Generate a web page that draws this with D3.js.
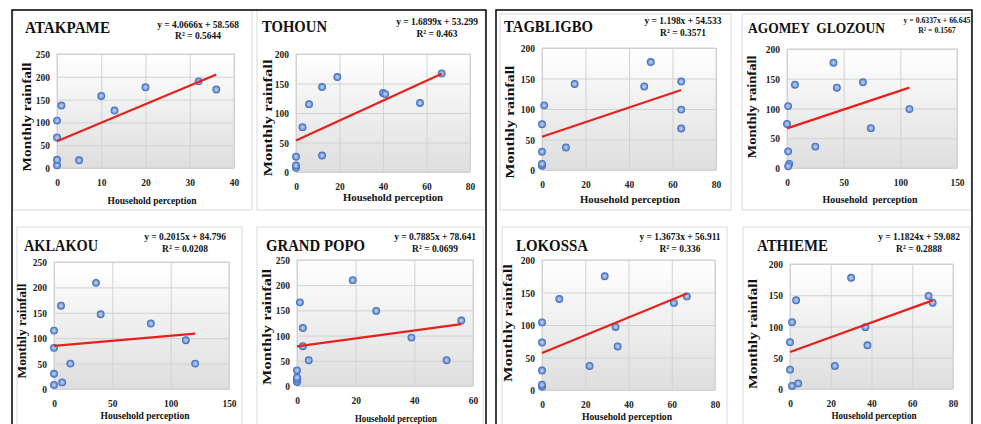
<!DOCTYPE html>
<html>
<head>
<meta charset="utf-8">
<script src="https://cdn.jsdelivr.net/npm/d3@7"></script>
<style>
html, body { margin: 0; padding: 0; background: #fff; }
svg { display: block; font-family: "Liberation Serif", "Times New Roman", serif; }
</style>
</head>
<body>
<svg id="viz"></svg>
<script>
// values
var sites = ["ATAKPAME", "TOHOUN", "TAGBLIGBO", "AGOMEY  GLOZOUN", "AKLAKOU", "GRAND POPO", "LOKOSSA", "ATHIEME"];
var slopes = [4.0666, 1.6899, 1.198, 0.6337, 0.2015, 0.7885, 1.3673, 1.1824];
var intercepts = [58.568, 53.299, 54.533, 66.645, 84.796, 78.641, 56.911, 59.082];
var rSquared = ["0.5644", "0.463", "0.3571", "0.1567", "0.0208", "0.0699", "0.336", "0.2888"];
var xMax = [40, 80, 80, 150, 150, 60, 80, 80];
var xStep = [10, 20, 20, 50, 50, 20, 20, 20];
var yMax = [250, 200, 200, 200, 250, 250, 200, 200];

// [household perception, monthly rainfall]
var atakpame = [[0, 6], [0, 18], [0, 67], [0, 104], [1, 137], [5, 17], [10, 158], [13, 126], [20, 177], [32, 190], [36, 172]];
var tohoun = [[0, 7], [0, 11], [0, 26], [3, 76], [6, 115], [12, 144], [12, 28], [19, 161], [40, 134], [41, 132], [57, 117], [67, 167]];
var tagbligbo = [[0, 7], [0, 10], [0, 30], [0, 75], [1, 106], [11, 37], [15, 141], [47, 137], [50, 177], [64, 145], [64, 99], [64, 68]];
var agomey = [[0, 74], [1, 104], [1, 28], [2, 7], [1, 3], [7, 140], [25, 36], [41, 177], [44, 135], [67, 144], [74, 67], [108, 99]];
var aklakou = [[0, 8], [0, 30], [0, 81], [0, 115], [6, 164], [7, 13], [14, 50], [36, 209], [40, 147], [83, 129], [113, 96], [121, 50]];
var grandPopo = [[0, 8], [0, 13], [0, 17], [0, 31], [1, 166], [2, 115], [2, 79], [4, 51], [19, 210], [27, 149], [39, 96], [51, 51], [56, 130]];
var lokossa = [[0, 5], [0, 8], [0, 30], [0, 73], [0, 104], [8, 140], [22, 37], [29, 175], [34, 97], [35, 67], [61, 134], [67, 144]];
var athieme = [[0, 31], [0, 75], [1, 107], [1, 5], [3, 142], [4, 9], [22, 37], [30, 178], [37, 99], [38, 70], [68, 149], [70, 138]];
var points = [atakpame, tohoun, tagbligbo, agomey, aklakou, grandPopo, lokossa, athieme];

var width = 981, height = 424;

// layout: box [x,y,w,h], plot [left,right,top,bottom], title [x,y,size,len],
// eq [cx,y1,y2,size], ylab [cx,cy,len], xlab [cx,y,len]
var panels = [
    {box: [13, 10, 239, 200], plot: [57, 234, 54, 168], title: [25, 33, 17, 85], eq: [198, 28, 39, 11], ylab: [27, 117, 109], xlab: [152, 204, 89]},
    {box: [257, 10, 228, 200], plot: [296, 470, 54, 172], title: [262, 32, 17, 65], eq: [437, 25, 37, 11], ylab: [268, 118, 117], xlab: [393, 201, 100]},
    {box: [500, 14, 231, 196], plot: [542, 716, 48, 170], title: [504, 32, 17, 89], eq: [683, 24, 36, 11], ylab: [510, 122, 113], xlab: [630, 203, 100]},
    {box: [742, 14, 229, 196], plot: [787, 957, 49, 168], title: [748, 33, 15, 137], eq: [937, 23, 33, 9], ylab: [752, 107, 103], xlab: [870, 203, 95]},
    {box: [17, 227, 225, 200], plot: [54, 229, 262, 389], title: [24, 251, 17, 74], eq: [185, 240, 252, 11], ylab: [22, 331, 95], xlab: [145, 419, 89]},
    {box: [257, 227, 226, 200], plot: [297, 473, 260, 386], title: [266, 251, 17, 99], eq: [435, 240, 252, 11], ylab: [267, 327, 116], xlab: [396, 422, 82]},
    {box: [502, 227, 225, 200], plot: [542, 715, 260, 390], title: [516, 251, 17, 72], eq: [680, 240, 252, 11], ylab: [508, 323, 118], xlab: [627, 420, 90]},
    {box: [743, 227, 227, 200], plot: [790, 953, 264, 389], title: [757, 251, 17, 71], eq: [919, 240, 252, 11], ylab: [753, 334, 110], xlab: [874, 419, 85]}
];

var svg = d3.select("#viz").attr("width", width).attr("height", height);

var defs = svg.append("defs");
var plotFill = defs.append("linearGradient").attr("id", "plotFill")
    .attr("x1", 0).attr("y1", 0).attr("x2", 0).attr("y2", 1);
plotFill.append("stop").attr("offset", 0).attr("stop-color", "#ffffff");
plotFill.append("stop").attr("offset", 1).attr("stop-color", "#dedede");
var dotFill = defs.append("radialGradient").attr("id", "dotFill");
dotFill.append("stop").attr("offset", 0).attr("stop-color", "#c9d8f2");
dotFill.append("stop").attr("offset", 1).attr("stop-color", "#5b84cc");

// squash text horizontally, the source picture is narrowed
function squeeze(sel, k) {
    sel.each(function() {
        var w = this.getComputedTextLength();
        d3.select(this).attr("textLength", w * k).attr("lengthAdjust", "spacingAndGlyphs");
    });
}

panels.forEach(function(p, i) {
    var g = svg.append("g");
    var l = p.plot[0], r = p.plot[1], t = p.plot[2], b = p.plot[3];

    g.append("rect")
        .attr("x", p.box[0]).attr("y", p.box[1])
        .attr("width", p.box[2]).attr("height", p.box[3])
        .attr("fill", "#fff").attr("stroke", "#d9d9d9");

    var x = d3.scaleLinear().domain([0, xMax[i]]).range([l, r]);
    var y = d3.scaleLinear().domain([0, yMax[i]]).range([b, t]);

    g.append("rect")
        .attr("x", l).attr("y", t).attr("width", r - l).attr("height", b - t)
        .attr("fill", "url(#plotFill)");

    var yAxis = g.append("g")
        .attr("transform", "translate(" + l + ",0)")
        .call(d3.axisLeft(y).tickValues(d3.range(0, yMax[i] + 1, 50)).tickSize(-(r - l)).tickPadding(7));
    var xAxis = g.append("g")
        .attr("transform", "translate(0," + b + ")")
        .call(d3.axisBottom(x).tickValues(d3.range(0, xMax[i] + 1, xStep[i])).tickSize(-(b - t)).tickPadding(10));

    [yAxis, xAxis].forEach(function(a) {
        a.attr("font-family", null).attr("font-size", null);
        a.select(".domain").remove();
        a.selectAll("line").attr("stroke", "#d2d2d2");
        a.selectAll("text").attr("fill", "#222").attr("font-size", 11).attr("font-weight", "bold")
            .call(squeeze, 0.86);
    });

    g.append("rect")
        .attr("x", l).attr("y", t).attr("width", r - l).attr("height", b - t)
        .attr("fill", "none").attr("stroke", "#d2d2d2");

    g.append("g").selectAll("circle")
        .data(points[i]).enter()
        .append("circle")
        .attr("cx", function(d) { return x(d[0]); })
        .attr("cy", function(d) { return y(d[1]); })
        .attr("r", 3.4)
        .attr("fill", "url(#dotFill)")
        .attr("stroke", "#4a74c2")
        .attr("stroke-width", 1.1);

    var lastX = d3.max(points[i], function(d) { return d[0]; });
    g.append("line")
        .attr("x1", x(0)).attr("y1", y(intercepts[i]))
        .attr("x2", x(lastX)).attr("y2", y(slopes[i] * lastX + intercepts[i]))
        .attr("stroke", "#e8201c").attr("stroke-width", 2.2);

    g.append("text")
        .attr("x", p.title[0]).attr("y", p.title[1])
        .attr("font-size", p.title[2]).attr("font-weight", "bold")
        .attr("fill", "#111").style("white-space", "pre")
        .attr("textLength", p.title[3]).attr("lengthAdjust", "spacingAndGlyphs")
        .text(sites[i]);

    g.append("text")
        .attr("x", p.eq[0]).attr("y", p.eq[1])
        .attr("text-anchor", "middle").attr("font-size", p.eq[3]).attr("font-weight", "bold").attr("fill", "#111")
        .text("y = " + slopes[i] + "x + " + intercepts[i])
        .call(squeeze, 0.86);
    g.append("text")
        .attr("x", p.eq[0]).attr("y", p.eq[2])
        .attr("text-anchor", "middle").attr("font-size", p.eq[3]).attr("font-weight", "bold").attr("fill", "#111")
        .text("R\u00b2 = " + rSquared[i])
        .call(squeeze, 0.86);

    g.append("text")
        .attr("transform", "translate(" + p.ylab[0] + "," + p.ylab[1] + ") rotate(-90)")
        .attr("text-anchor", "middle").attr("dy", "0.35em")
        .attr("font-size", 12.5).attr("font-weight", "bold").attr("fill", "#111")
        .attr("textLength", p.ylab[2]).attr("lengthAdjust", "spacingAndGlyphs")
        .text("Monthly rainfall");

    g.append("text")
        .attr("x", p.xlab[0]).attr("y", p.xlab[1])
        .attr("text-anchor", "middle")
        .attr("font-size", 11).attr("font-weight", "bold").attr("fill", "#111")
        .attr("textLength", p.xlab[2]).attr("lengthAdjust", "spacingAndGlyphs")
        .style("white-space", "pre")
        .text(i === 3 ? "Household  perception" : "Household perception");
});

// the two black frames round each group
[[12, 10, 474, 430], [496, 10, 476, 430]].forEach(function(f) {
    svg.append("rect")
        .attr("x", f[0]).attr("y", f[1]).attr("width", f[2]).attr("height", f[3])
        .attr("fill", "none").attr("stroke", "#000").attr("stroke-width", 1.5);
});
</script>
</body>
</html>
